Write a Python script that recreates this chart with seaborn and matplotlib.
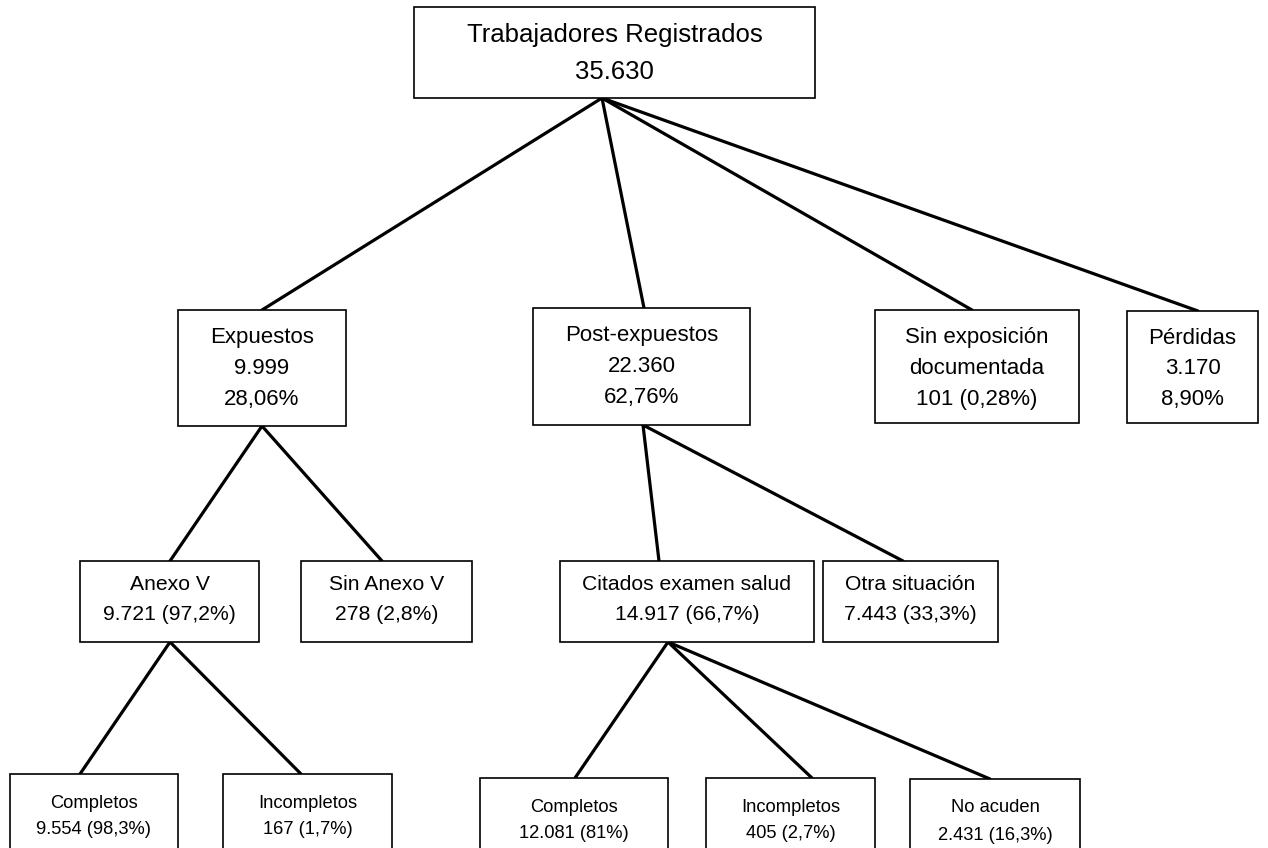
import matplotlib
matplotlib.use("Agg")
import matplotlib.pyplot as plt
from matplotlib.patches import Rectangle
import seaborn as sns
import pandas as pd

# Datos del diagrama
nodos = ["raiz", "expuestos", "post", "sin_exp", "perdidas",
         "anexo", "sin_anexo", "citados", "otra",
         "comp1", "incomp1", "comp2", "incomp2", "noacuden"]
titulos = ["Trabajadores Registrados", "Expuestos", "Post-expuestos",
           "Sin exposición\ndocumentada", "Pérdidas",
           "Anexo V", "Sin Anexo V", "Citados examen salud", "Otra situación",
           "Completos", "Incompletos", "Completos", "Incompletos", "No acuden"]
cifras = ["35.630", "9.999\n28,06%", "22.360\n62,76%", "101 (0,28%)", "3.170\n8,90%",
          "9.721 (97,2%)", "278 (2,8%)", "14.917 (66,7%)", "7.443 (33,3%)",
          "9.554 (98,3%)", "167 (1,7%)", "12.081 (81%)", "405 (2,7%)", "2.431 (16,3%)"]
aristas = [("raiz", "expuestos"), ("raiz", "post"), ("raiz", "sin_exp"), ("raiz", "perdidas"),
           ("expuestos", "anexo"), ("expuestos", "sin_anexo"),
           ("post", "citados"), ("post", "otra"),
           ("anexo", "comp1"), ("anexo", "incomp1"),
           ("citados", "comp2"), ("citados", "incomp2"), ("citados", "noacuden")]

# Maquetación (pixeles): caja x0, x1, y0, y1 y nivel
cajas = {
    "raiz": (414, 815, 7, 98),
    "expuestos": (178, 346, 310, 426),
    "post": (533, 750, 308, 425),
    "sin_exp": (875, 1079, 310, 423),
    "perdidas": (1127, 1258, 311, 423),
    "anexo": (80, 259, 561, 642),
    "sin_anexo": (301, 472, 561, 642),
    "citados": (560, 814, 561, 642),
    "otra": (823, 998, 561, 642),
    "comp1": (10, 178, 774, 880),
    "incomp1": (223, 392, 774, 880),
    "comp2": (480, 668, 778, 880),
    "incomp2": (706, 875, 778, 880),
    "noacuden": (910, 1080, 779, 880),
}
nivel = {"raiz": 0, "expuestos": 1, "post": 1, "sin_exp": 1, "perdidas": 1,
         "anexo": 2, "sin_anexo": 2, "citados": 2, "otra": 2,
         "comp1": 3, "incomp1": 3, "comp2": 3, "incomp2": 3, "noacuden": 3}
# por nivel: tamaño de fuente, desplazamiento de la primera línea, interlineado
estilo_nivel = {0: (18.5, 28, 37), 1: (16, 27, 31), 2: (15.2, 24, 30), 3: (13.2, 29, 27)}

# puntos de anclaje de las aristas (salida abajo del padre, llegada arriba del hijo)
salida = {"raiz": 602, "expuestos": 262, "post": 643, "anexo": 170, "citados": 668}
llegada = {"expuestos": 262, "post": 644, "sin_exp": 972, "perdidas": 1198,
           "anexo": 170, "sin_anexo": 382, "citados": 659, "otra": 903,
           "comp1": 80, "incomp1": 301, "comp2": 575, "incomp2": 812, "noacuden": 990}

sns.set_style("white")
FAMILIA = ["Liberation Sans", "DejaVu Sans"]

fig = plt.figure(figsize=(12.68, 8.48), dpi=100)
ax = fig.add_axes([0, 0, 1, 1])

# aristas con seaborn
filas = []
for i, (p, h) in enumerate(aristas):
    filas.append({"arista": i, "x": salida[p], "y": cajas[p][3]})
    filas.append({"arista": i, "x": llegada[h], "y": cajas[h][2]})
df = pd.DataFrame(filas)
sns.lineplot(data=df, x="x", y="y", units="arista", estimator=None, sort=False,
             color="black", linewidth=2.3, ax=ax, zorder=1)
ax.set_xlim(0, 1268)
ax.set_ylim(848, 0)
ax.axis("off")

for nodo, titulo, cifra in zip(nodos, titulos, cifras):
    x0, x1, y0, y1 = cajas[nodo]
    ax.add_patch(Rectangle((x0, y0), x1 - x0, y1 - y0, facecolor="white",
                           edgecolor="black", linewidth=1.2, zorder=2))
    fs, off, paso = estilo_nivel[nivel[nodo]]
    lineas = titulo.split("\n") + cifra.split("\n")
    for k, txt in enumerate(lineas):
        ax.text((x0 + x1) / 2, y0 + off + k * paso, txt, ha="center", va="center",
                fontsize=fs, family=FAMILIA, color="black", zorder=3)

fig.savefig("out.png", dpi=100)
